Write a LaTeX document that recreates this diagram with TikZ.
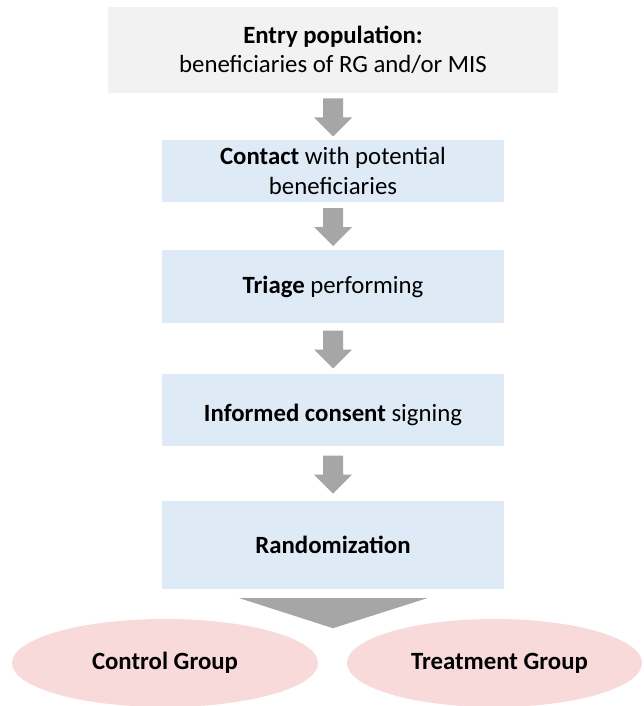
\documentclass[tikz,border=0pt]{standalone}
\usepackage{fontspec}
\setmainfont{Carlito}
\usetikzlibrary{calc,shapes.geometric}
\definecolor{boxblue}{HTML}{DEEBF7}
\definecolor{boxgray}{HTML}{F2F2F2}
\definecolor{arrowgray}{HTML}{A6A6A6}
\definecolor{ellpink}{HTML}{F9DADB}
\begin{document}
\begin{tikzpicture}[x=1pt,y=-1pt,
  every node/.style={font=\fontsize{24.8}{29.5}\selectfont, inner sep=0pt, align=center, text=black},
  topbox/.style={rectangle, fill=boxgray, minimum width=450pt, minimum height=86pt},
  stepbox/.style={rectangle, fill=boxblue, minimum width=342pt},
  grp/.style={ellipse, fill=ellpink, minimum height=88pt},
  blockarrow/.style={fill=arrowgray},
  splitter/.style={fill=arrowgray}]
\useasboundingbox (0,0) rectangle (643,706);
\fill[white] (0,0) rectangle (643,706);

\node[topbox] (b1) at (333,50) {\textbf{Entry population:}\\beneficiaries of RG and/or MIS};
\node[stepbox, minimum height=62pt] (b2) at (333,171) {\textbf{Contact} with potential\\beneficiaries};
\node[stepbox, minimum height=73pt] (b3) at (333,286.5) {\textbf{Triage} performing};
\node[stepbox, minimum height=72pt] (b4) at (333,410) {};
\node (t4) at ($(b4.center)+(0,5)$) {\textbf{Informed consent} signing};
\node[stepbox, minimum height=88pt] (b5) at (333,545) {\textbf{Randomization}};

\node[grp, minimum width=306pt] (g1) at (165,663) {\textbf{Control Group}};
\node[grp, minimum width=295pt] (g2) at (494.5,663) {\hspace*{10pt}\textbf{Treatment Group}};

\foreach \u/\l [count=\i] in {b1/b2,b2/b3,b3/b4,b4/b5}{
  \coordinate (a\i) at ($(\u.south)!0.5!(\l.north)$);
  \fill[blockarrow] ($(a\i)+(-10,-18)$) -- ($(a\i)+(10,-18)$) -- ($(a\i)+(10,1)$)
    -- ($(a\i)+(19,1)$) -- ($(a\i)+(0,20)$) -- ($(a\i)+(-19,1)$) -- ($(a\i)+(-10,1)$) -- cycle;
}
\coordinate (s) at (b5.south);
\fill[splitter] ($(s)+(-93.5,9)$) -- ($(s)+(94,9)$) -- ($(s)+(0,39)$) -- cycle;
\end{tikzpicture}
\end{document}
